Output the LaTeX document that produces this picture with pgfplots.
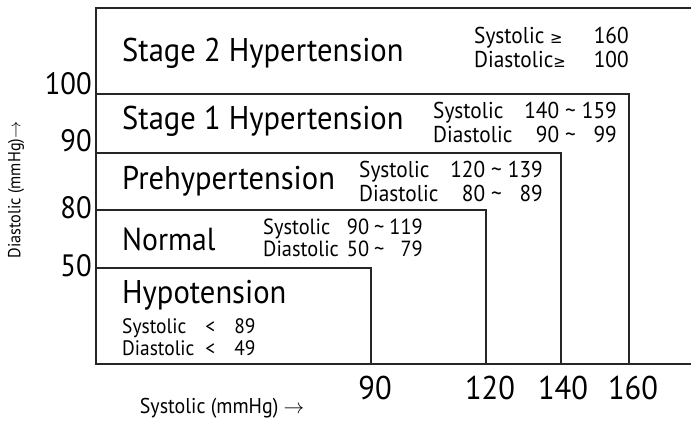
\documentclass[border=0pt]{standalone}
\usepackage{fontspec}
\setmainfont{PT Sans}[FakeStretch=0.93]
\newfontfamily\dejavu{DejaVu Sans}[FakeStretch=0.93]
\usepackage{pgfplots}
\pgfplotsset{compat=1.18}
\newcommand{\geqs}{{\dejavu\fontsize{16}{16}\selectfont ≥}}
\newcommand{\tl}{\textasciitilde}
\begin{document}
\begin{tikzpicture}[x=1bp,y=1bp]
\path[use as bounding box] (0,0) rectangle (691,426);
\begin{axis}[
  at={(96bp,62bp)}, anchor=south west,
  scale only axis, width=595bp, height=356bp,
  xmin=96, xmax=691, ymin=62, ymax=418,
  clip=false,
  axis line style={draw=none},
  major tick length=0pt,
  xtick={375,490,563,633}, xticklabels={90,120,140,160},
  ytick={160,218,285,342}, yticklabels={50,80,90,100},
  xticklabel style={font=\fontsize{33}{33}\selectfont, anchor=base, inner sep=0pt, yshift=-35bp},
  yticklabel style={font=\fontsize{31}{31}\selectfont, anchor=east, inner sep=0pt, xshift=-4bp},
  /pgf/number format/assume math mode=true,
  xlabel={Systolic (mmHg) $\rightarrow$},
  ylabel={Diastolic (mmHg)$\rightarrow$},
  xlabel style={font=\fontsize{21.5}{21.5}\selectfont, at={(axis description cs:0.212,-0.1236)}, anchor=center},
  ylabel style={font=\fontsize{17.5}{17.5}\selectfont, inner sep=0pt, at={(axis description cs:-0.1345,0.489)}, anchor=center},
]
% frame (Stage 2 region, open to the right)
\addplot[draw=black!85, line width=1.3bp] coordinates {(691,418) (96,418) (96,62) (691,62)};
% Stage 1: systolic < 160, diastolic < 100
\addplot[draw=black!85, line width=1.3bp] coordinates {(96,332) (629,332) (629,62)};
% Prehypertension: systolic < 140, diastolic < 90
\addplot[draw=black!85, line width=1.3bp] coordinates {(96,273) (561,273) (561,62)};
% Normal: systolic < 120, diastolic < 80
\addplot[draw=black!85, line width=1.3bp] coordinates {(96,216) (486,216) (486,62)};
% Hypotension: systolic < 90, diastolic < 50
\addplot[draw=black!85, line width=1.3bp] coordinates {(96,158) (371,158) (371,62)};

\node[anchor=base west, inner sep=0pt, font=\fontsize{33}{33}\selectfont] at (axis cs:122,364) {Stage 2 Hypertension};
\node[anchor=base west, inner sep=0pt, font=\fontsize{33}{33}\selectfont] at (axis cs:122,296) {Stage 1 Hypertension};
\node[anchor=base west, inner sep=0pt, font=\fontsize{33}{33}\selectfont] at (axis cs:122,236) {Prehypertension};
\node[anchor=base west, inner sep=0pt, font=\fontsize{32}{32}\selectfont] at (axis cs:122,176) {Normal};
\node[anchor=base west, inner sep=0pt, font=\fontsize{33}{33}\selectfont] at (axis cs:122,123) {Hypotension};

\node[anchor=base west, inner sep=0pt, font=\fontsize{23}{23}\selectfont] at (axis cs:474,382)
  {\begin{tabular}[t]{@{}l@{\hspace{28bp}}r@{}}Systolic \geqs & 160\\ Diastolic\geqs & 100\end{tabular}};
\node[anchor=base west, inner sep=0pt, font=\fontsize{23}{23}\selectfont] at (axis cs:433,307)
  {\begin{tabular}[t]{@{}l@{\hspace{12bp}}r@{\hspace{6bp}}c@{\hspace{6bp}}r@{}}Systolic & 140 & \tl & 159\\ Diastolic & 90 & \tl & 99\end{tabular}};
\node[anchor=base west, inner sep=0pt, font=\fontsize{23}{23}\selectfont] at (axis cs:359,248)
  {\begin{tabular}[t]{@{}l@{\hspace{12bp}}r@{\hspace{6bp}}c@{\hspace{6bp}}r@{}}Systolic & 120 & \tl & 139\\ Diastolic & 80 & \tl & 89\end{tabular}};
\node[anchor=base west, inner sep=0pt, font=\fontsize{22}{23}\selectfont] at (axis cs:263,192)
  {\begin{tabular}[t]{@{}l@{\hspace{8bp}}r@{\hspace{5bp}}c@{\hspace{5bp}}r@{}}Systolic & 90 & \tl & 119\\ Diastolic & 50 & \tl & 79\end{tabular}};
\node[anchor=base west, inner sep=0pt, font=\fontsize{21}{23}\selectfont] at (axis cs:122,93)
  {\begin{tabular}[t]{@{}l@{\hspace{11bp}}c@{\hspace{19bp}}r@{}}Systolic & < & 89\\ Diastolic & < & 49\end{tabular}};
\end{axis}
\end{tikzpicture}
\end{document}
